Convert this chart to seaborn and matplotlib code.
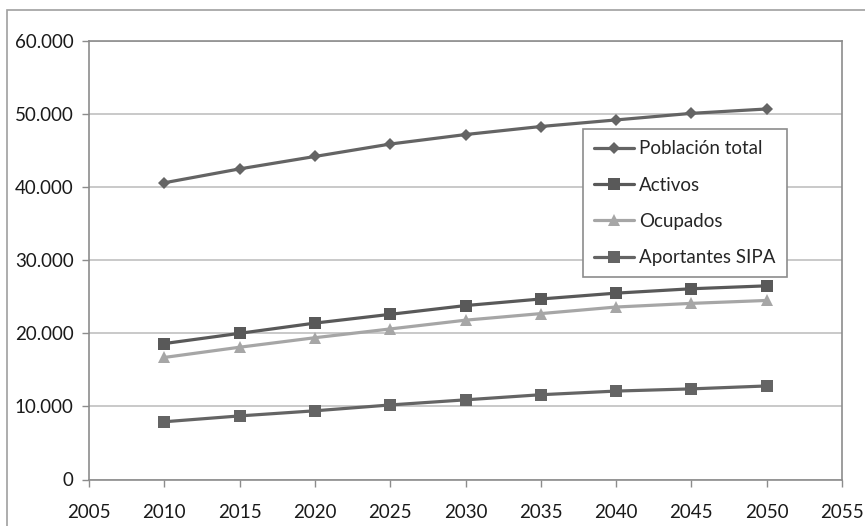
import matplotlib
matplotlib.use("Agg")
import matplotlib.pyplot as plt
from matplotlib.patches import Rectangle
import seaborn as sns
import pandas as pd

years = [2010, 2015, 2020, 2025, 2030, 2035, 2040, 2045, 2050]
poblacion_total = [40600, 42500, 44200, 45900, 47200, 48300, 49200, 50100, 50700]
activos = [18600, 20000, 21400, 22600, 23800, 24700, 25500, 26100, 26500]
ocupados = [16700, 18100, 19400, 20600, 21800, 22700, 23600, 24100, 24500]
aportantes_sipa = [7900, 8700, 9400, 10200, 10900, 11600, 12100, 12400, 12800]

series_names = ["Población total", "Activos", "Ocupados", "Aportantes SIPA"]
series_values = [poblacion_total, activos, ocupados, aportantes_sipa]
x_ticks = [2005, 2010, 2015, 2020, 2025, 2030, 2035, 2040, 2045, 2050, 2055]
y_ticks = [0, 10000, 20000, 30000, 40000, 50000, 60000]

sns.set_theme(style="white")
plt.rcParams["font.family"] = ["Lato", "DejaVu Sans"]

styles = {
    "Población total": dict(color="#646464", marker="D", ms=6.5),
    "Activos": dict(color="#595959", marker="s", ms=8),
    "Ocupados": dict(color="#a6a6a6", marker="^", ms=8),
    "Aportantes SIPA": dict(color="#646464", marker="s", ms=8),
}

fig = plt.figure(figsize=(8.65, 5.26), dpi=100)
ax = fig.add_axes([89 / 865, 1 - 479.5 / 526, (842 - 89) / 865, (479.5 - 41) / 526])

for name, vals in zip(series_names, series_values):
    df = pd.DataFrame({"year": years, "value": vals})
    st = styles[name]
    sns.lineplot(data=df, x="year", y="value", ax=ax, color=st["color"],
                 marker=st["marker"], markersize=st["ms"], markeredgewidth=0,
                 linewidth=2.3, label=name)

ax.set_xlim(2005, 2055)
ax.set_ylim(0, 60000)
ax.set_xticks(x_ticks)
ax.set_yticks(y_ticks)
ax.set_yticklabels([f"{v:,}".replace(",", ".") for v in y_ticks])
ax.set_xlabel("")
ax.set_ylabel("")
ax.grid(axis="y", color="#c0c0c0", linewidth=1.2)
ax.set_axisbelow(True)
for side in ["left", "right", "top", "bottom"]:
    ax.spines[side].set_visible(True)
    ax.spines[side].set_color("#8c8c8c")
    ax.spines[side].set_linewidth(1.2)
ax.tick_params(axis="both", which="major", direction="out", length=5,
               color="#8c8c8c", width=1, labelsize=13.5, labelcolor="#1a1a1a",
               left=True, bottom=True)
ax.tick_params(axis="x", pad=13)
ax.tick_params(axis="y", pad=6)

leg = ax.legend(loc="upper left", bbox_to_anchor=(583 / 865, 1 - 129 / 526),
                bbox_transform=fig.transFigure, frameon=True, fancybox=False,
                fontsize=13.5, labelspacing=1.03, handlelength=2.1,
                handletextpad=0.3, borderpad=0.6, borderaxespad=0)
leg.get_frame().set_edgecolor("#8c8c8c")
leg.get_frame().set_linewidth(1.2)
leg.get_frame().set_facecolor("white")
leg.get_frame().set_alpha(1)

# chart area border
fig.patches.append(Rectangle((7 / 865, -0.1), 1.2, 1 - 10 / 526 + 0.1,
                             transform=fig.transFigure, fill=False,
                             edgecolor="#a0a0a0", linewidth=1.2))

fig.savefig("out.png", dpi=100)
